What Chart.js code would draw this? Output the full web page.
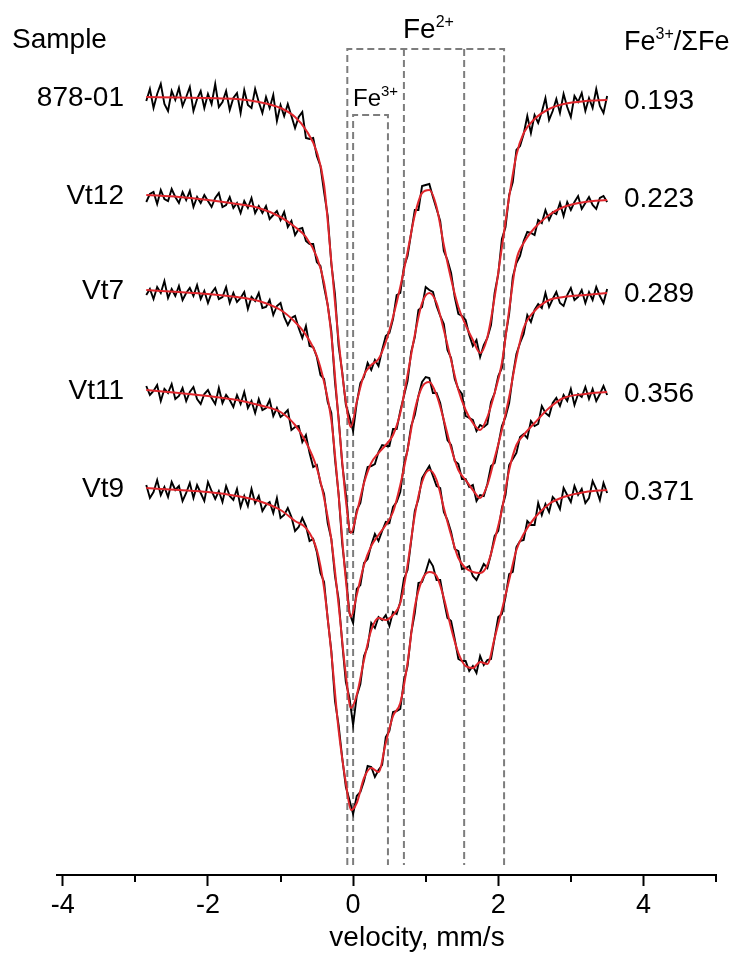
<!DOCTYPE html>
<html>
<head>
<meta charset="utf-8">
<title>Mössbauer spectra</title>
<style>
  html, body { margin: 0; padding: 0; background: #fff; }
  #wrap { width: 731px; height: 958px; }
</style>
<script src="https://cdn.jsdelivr.net/npm/chart.js@4.4.1/dist/chart.umd.min.js"></script>
</head>
<body>
<div id="wrap"><canvas id="spectra" width="731" height="958"></canvas></div>
<script>
// velocity of the measured channels (mm/s)
const velocity = [
  -2.85,-2.80,-2.75,-2.70,-2.65,-2.60,-2.55,-2.50,-2.45,-2.40,
  -2.35,-2.30,-2.25,-2.20,-2.15,-2.10,-2.05,-2.00,-1.95,-1.90,
  -1.85,-1.80,-1.75,-1.70,-1.65,-1.60,-1.55,-1.50,-1.45,-1.40,
  -1.35,-1.30,-1.25,-1.20,-1.15,-1.10,-1.05,-1.00,-0.95,-0.90,
  -0.85,-0.80,-0.75,-0.70,-0.65,-0.60,-0.55,-0.50,-0.45,-0.40,
  -0.35,-0.30,-0.25,-0.20,-0.15,-0.10,-0.05,0.00,0.05,0.10,
  0.15,0.20,0.25,0.30,0.35,0.40,0.45,0.50,0.55,0.60,
  0.65,0.70,0.75,0.80,0.85,0.90,0.95,1.00,1.05,1.10,
  1.15,1.20,1.25,1.30,1.35,1.40,1.45,1.50,1.55,1.60,
  1.65,1.70,1.75,1.80,1.85,1.90,1.95,2.00,2.05,2.10,
  2.15,2.20,2.25,2.30,2.35,2.40,2.45,2.50,2.55,2.60,
  2.65,2.70,2.75,2.80,2.85,2.90,2.95,3.00,3.05,3.10,
  3.15,3.20,3.25,3.30,3.35,3.40,3.45,3.50
];

// velocity points of the fitted envelopes (mm/s)
const fitVelocity = [
  -2.85,-2.4,-2.0,-1.6,-1.3,-1.0,-0.8,-0.65,-0.5,-0.4,
  -0.3,-0.2,-0.1,-0.03,0.05,0.15,0.25,0.35,0.45,0.55,
  0.65,0.75,0.85,0.95,1.05,1.15,1.25,1.35,1.45,1.55,
  1.65,1.75,1.85,1.95,2.05,2.15,2.25,2.35,2.5,2.7,
  2.9,3.2,3.5
];

const sampleNames = ['878-01', 'Vt12', 'Vt7', 'Vt11', 'Vt9'];
const fe3Ratio = ['0.193', '0.223', '0.289', '0.356', '0.371'];
// vertical shift of each spectrum in the stack (%)
const stackOffset = [0, -9.8, -19.3, -29.3, -39.1];

// relative transmission (%), measured
const data87801 = [
  99.6,100.8,98.9,100.3,101.3,99.3,98.6,100.6,99.7,100.9,
  99.1,100.0,101.0,98.6,99.8,100.6,98.9,100.3,99.3,101.3,
  99.0,99.5,100.6,98.7,99.9,100.4,98.4,100.7,99.2,98.9,
  100.8,99.5,98.4,100.0,98.9,100.2,97.6,99.2,98.1,99.3,
  98.1,96.9,98.0,98.5,95.9,95.8,95.9,94.1,93.1,90.5,
  88.1,83.3,80.3,75.1,72.5,69.2,68.0,66.6,69.4,71.4,
  72.0,73.4,72.7,73.7,73.1,74.7,76.1,76.4,77.8,80.2,
  80.4,83.0,84.1,86.4,88.7,88.7,91.1,91.2,91.3,90.0,
  88.8,87.6,84.6,83.7,82.4,80.0,78.3,78.1,77.7,76.2,
  75.1,75.7,74.0,75.2,75.9,77.2,80.4,82.3,85.8,87.0,
  90.2,91.5,94.7,95.1,96.3,98.1,96.4,98.2,97.4,98.5,
  99.9,97.7,98.6,99.8,98.4,100.3,99.0,98.0,100.1,99.5,
  100.4,98.6,99.9,98.9,100.8,99.1,98.4,100.1
];
const dataVt12 = [
  99.3,100.1,100.3,99.1,100.5,99.6,99.4,100.6,99.8,99.2,
  100.3,99.5,100.4,98.8,99.8,99.2,100.0,99.4,98.8,99.7,
  100.2,98.8,99.0,99.8,98.7,99.2,98.2,99.4,98.7,99.7,
  98.2,98.9,98.2,98.9,97.6,98.0,98.4,97.5,98.3,96.8,
  97.4,96.0,96.6,96.7,95.4,95.1,95.1,93.3,92.9,90.8,
  89.0,86.4,81.3,77.7,73.1,70.1,66.3,66.3,68.5,69.2,
  71.3,72.8,72.9,73.1,74.3,75.0,74.9,74.9,76.6,76.6,
  78.4,79.9,81.4,84.3,85.8,88.5,88.8,90.8,90.5,90.3,
  88.9,87.9,87.1,84.5,83.7,81.6,80.6,80.1,77.9,77.7,
  77.5,76.4,77.0,76.8,77.1,79.3,80.2,81.9,82.7,85.9,
  88.1,91.8,93.2,93.9,95.4,96.3,96.2,96.0,97.5,97.2,
  98.5,97.5,98.3,98.1,99.2,97.9,99.3,98.5,99.3,99.9,
  98.6,99.2,99.8,99.0,98.6,99.7,99.9,99.3
];
const dataVt7 = [
  99.5,100.1,99.1,100.3,99.7,100.9,99.2,100.1,99.4,100.4,
  99.0,99.7,100.2,99.4,100.5,99.1,99.9,98.7,99.7,100.2,
  99.1,99.3,100.3,98.7,99.7,98.8,99.2,99.8,98.1,99.3,
  98.9,99.7,98.2,98.3,99.0,97.5,98.4,98.7,97.3,96.5,
  97.2,97.4,96.2,95.2,96.4,94.4,94.3,93.3,91.5,91.1,
  88.8,87.7,83.1,79.6,74.6,71.4,67.7,66.7,70.1,70.5,
  72.7,73.1,74.5,75.6,74.9,75.9,76.8,76.7,78.3,78.8,
  79.8,82.5,84.0,86.4,87.5,89.4,90.8,91.3,91.2,89.7,
  89.7,88.7,86.9,85.0,84.5,82.9,82.6,81.1,81.1,80.3,
  80.5,78.9,79.5,79.4,80.6,82.4,82.7,84.5,86.4,87.3,
  88.7,91.4,93.6,94.7,95.6,97.5,96.8,98.0,98.6,98.2,
  99.7,98.3,99.1,99.8,98.7,98.4,99.5,100.2,99.0,99.3,
  100.0,98.7,99.8,99.0,100.3,99.4,98.7,100.1
];
const dataVt11 = [
  100.4,99.5,99.9,100.5,98.9,100.1,99.7,100.6,99.1,99.4,
  100.2,98.9,99.8,100.3,99.1,98.6,99.6,100.0,99.2,98.6,
  100.2,98.7,99.5,99.0,98.3,99.5,98.6,99.8,98.2,98.9,
  97.7,99.1,98.0,98.2,99.0,97.4,98.2,97.3,97.6,98.0,
  96.0,96.3,96.4,94.8,95.5,93.7,92.3,92.5,90.7,89.6,
  86.7,85.1,81.4,79.1,74.7,70.8,69.2,66.5,69.4,70.6,
  73.4,74.3,76.7,76.2,77.3,77.0,77.5,76.4,77.8,77.6,
  78.8,81.1,82.0,84.9,87.9,89.1,91.2,91.8,92.4,91.4,
  90.4,90.2,87.8,87.0,85.8,84.1,83.9,82.1,82.2,82.4,
  81.4,81.0,81.8,82.6,82.2,83.6,85.4,85.9,88.2,89.5,
  92.5,93.1,93.7,95.3,95.6,95.2,96.9,96.4,96.6,98.4,
  97.7,97.4,98.7,99.2,98.4,99.5,98.9,100.1,98.5,99.6,
  99.3,100.3,99.1,100.1,98.9,99.6,100.4,99.5
];
const dataVt9 = [
  100.3,99.0,99.6,100.8,99.3,100.1,99.1,100.6,99.8,100.2,
  98.7,99.5,100.5,99.0,100.3,99.5,98.7,100.6,99.7,98.9,
  99.7,98.6,100.2,99.2,98.8,99.9,98.1,99.2,98.2,99.9,
  98.5,99.2,97.7,98.3,98.6,97.5,99.0,97.0,97.3,98.0,
  97.1,95.7,96.1,97.0,96.2,94.7,94.9,93.6,91.5,90.6,
  86.9,83.7,78.7,76.3,73.0,70.1,68.8,67.4,69.2,69.6,
  70.7,72.2,72.1,71.1,71.8,72.3,75.1,75.7,77.6,77.7,
  77.9,80.7,82.2,85.5,87.5,90.5,90.6,91.6,92.8,92.2,
  90.8,90.8,88.8,87.0,86.7,84.9,82.9,82.7,82.7,81.7,
  82.2,81.5,83.2,82.3,82.8,82.9,85.0,87.1,87.4,89.1,
  91.4,91.6,94.1,94.7,94.8,96.7,96.3,96.3,98.5,97.3,
  98.4,97.6,99.1,98.7,97.9,100.0,99.3,98.6,100.2,99.3,
  99.9,98.5,99.0,100.7,99.9,98.8,100.5,99.5
];

// relative transmission (%), fitted envelope
const fit87801 = [
  100,99.95,99.9,99.8,99.5,98.9,98.0,96.7,94.5,91.2,
  83.5,75.7,69.5,67.0,69.5,72.2,73.2,73.8,75.5,78.0,
  81.0,84.5,88.2,90.4,90.7,89.0,85.2,81.8,79.0,77.2,
  75.7,74.4,76.0,80.0,85.0,90.0,94.2,96.4,97.8,98.8,
  99.3,99.6,99.7
];
const fitVt12 = [
  100,99.8,99.5,99.1,98.7,97.8,96.8,95.8,93.8,91.2,
  86.0,77.5,69.5,66.2,68.2,71.2,73.2,74.2,75.0,76.0,
  78.2,82.0,86.0,89.2,90.2,89.2,86.5,83.5,80.5,78.5,
  77.2,76.5,77.8,80.2,83.2,88.5,93.5,95.2,96.7,98.0,
  98.8,99.3,99.5
];
const fitVt7 = [
  100,99.8,99.6,99.3,98.9,98.0,96.8,95.5,93.4,90.8,
  87.0,79.5,71.0,67.3,69.5,72.5,74.4,75.5,76.5,77.8,
  80.5,84.0,88.0,90.3,90.8,89.5,87.0,84.2,82.0,81.0,
  80.0,79.2,80.5,83.2,86.0,89.3,93.2,96.2,97.9,99.0,
  99.3,99.5,99.7
];
const fitVt11 = [
  100,99.7,99.4,99.0,98.5,97.8,96.5,94.8,92.2,89.2,
  85.0,78.5,71.5,68.2,69.5,73.0,76.0,77.2,77.0,77.5,
  78.7,82.5,87.5,90.8,92.0,91.0,88.2,85.5,83.2,82.2,
  81.8,81.7,82.5,85.0,88.0,92.0,94.5,95.5,96.7,98.2,
  99.2,99.6,99.8
];
const fitVt9 = [
  100,99.8,99.6,99.2,98.7,97.8,96.7,96.0,93.8,90.0,
  83.5,75.8,70.5,67.8,68.5,71.0,72.0,71.6,74.5,77.2,
  78.5,82.5,88.1,90.8,91.6,91.2,89.0,86.0,83.5,82.2,
  82.0,82.6,82.4,85.0,87.8,90.8,93.8,95.4,97.0,98.4,
  99.1,99.6,99.8
];

// component positions marked by the dashed boxes (mm/s)
const fe2Lines = [-0.08, 0.70, 1.53, 2.08];
const fe3Lines = [0.00, 0.48];
const fe2Top = 104.8;
const fe3Top = 98.2;
const markerBottom = 23.2;

const axisTicks = [-4, -3, -2, -1, 0, 1, 2, 3, 4, 5];

const FONT = '"Liberation Sans", Arial, Helvetica, sans-serif';
const RED = '#e0262c';

const measured = [data87801, dataVt12, dataVt7, dataVt11, dataVt9];
const fitted = [fit87801, fitVt12, fitVt7, fitVt11, fitVt9];

function stacked(xs, ys, off) {
    return xs.map((x, i) => ({ x: x, y: ys[i] + off }));
}

function dashed(points) {
    return {
        data: points,
        borderColor: '#7d7d7d',
        borderWidth: 2,
        borderDash: [7, 4],
        pointRadius: 0,
        tension: 0,
        order: 3
    };
}

const datasets = [];

// measured spectra and their fits
measured.forEach((ys, k) => {
    datasets.push({
        data: stacked(velocity, ys, stackOffset[k]),
        borderColor: '#000',
        borderWidth: 1.9,
        pointRadius: 0,
        tension: 0,
        order: 2
    });
    datasets.push({
        data: stacked(fitVelocity, fitted[k], stackOffset[k]),
        borderColor: RED,
        borderWidth: 2,
        pointRadius: 0,
        cubicInterpolationMode: 'monotone',
        order: 1
    });
});

// dashed component boxes
datasets.push(dashed([
    { x: fe2Lines[0], y: markerBottom }, { x: fe2Lines[0], y: fe2Top },
    { x: fe2Lines[3], y: fe2Top }, { x: fe2Lines[3], y: markerBottom }
]));
datasets.push(dashed([{ x: fe2Lines[1], y: fe2Top }, { x: fe2Lines[1], y: markerBottom }]));
datasets.push(dashed([{ x: fe2Lines[2], y: fe2Top }, { x: fe2Lines[2], y: markerBottom }]));
datasets.push(dashed([
    { x: fe3Lines[0], y: markerBottom }, { x: fe3Lines[0], y: fe3Top },
    { x: fe3Lines[1], y: fe3Top }, { x: fe3Lines[1], y: markerBottom }
]));

// text with a superscript part
function supText(ctx, parts, x, y, size, supSize, rise) {
    ctx.textAlign = 'left';
    parts.forEach(p => {
        if (p.sup) {
            ctx.font = supSize + 'px ' + FONT;
            ctx.fillText(p.t, x, y - rise);
        } else {
            ctx.font = size + 'px ' + FONT;
            ctx.fillText(p.t, x, y);
        }
        x += ctx.measureText(p.t).width;
    });
}

const labelPlugin = {
    id: 'labels',
    afterDraw(chart) {
        const ctx = chart.ctx;
        const xScale = chart.scales.x;
        const yScale = chart.scales.y;
        const axisY = chart.chartArea.bottom;
        ctx.save();

        // short minor ticks at the odd velocities
        ctx.strokeStyle = '#000';
        ctx.lineWidth = 2;
        axisTicks.filter(v => v % 2 !== 0).forEach(v => {
            const px = Math.round(xScale.getPixelForValue(v));
            ctx.beginPath();
            ctx.moveTo(px, axisY);
            ctx.lineTo(px, axisY + 7);
            ctx.stroke();
        });

        ctx.fillStyle = '#000';
        ctx.textBaseline = 'alphabetic';

        ctx.font = '28px ' + FONT;
        ctx.textAlign = 'center';
        ctx.fillText('velocity, mm/s', 417, 946);

        ctx.textAlign = 'left';
        ctx.fillText('Sample', 12, 48);

        sampleNames.forEach((name, k) => {
            const py = yScale.getPixelForValue(100 + stackOffset[k]);
            ctx.font = '28px ' + FONT;
            ctx.textAlign = 'right';
            ctx.fillText(name, 124, py + 9);
            ctx.textAlign = 'left';
            ctx.fillText(fe3Ratio[k], 624, py + 12);
        });

        supText(ctx, [{ t: 'Fe' }, { t: '3+', sup: true }, { t: '/ΣFe' }], 624, 50, 27, 16, 11);
        supText(ctx, [{ t: 'Fe' }, { t: '2+', sup: true }], 403, 38, 28, 16, 11);
        supText(ctx, [{ t: 'Fe' }, { t: '3+', sup: true }], 353, 106, 24, 15, 10);
        ctx.restore();
    }
};

new Chart(document.getElementById('spectra'), {
    type: 'line',
    data: { datasets: datasets },
    options: {
        responsive: false,
        animation: false,
        devicePixelRatio: 1,
        layout: { padding: { left: 57, right: 15, top: 10, bottom: 0 } },
        plugins: {
            legend: { display: false },
            tooltip: { enabled: false }
        },
        scales: {
            x: {
                type: 'linear',
                min: -4.08,
                max: 5.0,
                afterBuildTicks: s => { s.ticks = axisTicks.map(v => ({ value: v })); },
                afterFit: s => { s.height = 83; },
                border: { display: true, color: '#000', width: 2 },
                grid: {
                    drawOnChartArea: false,
                    drawTicks: true,
                    tickLength: 11,
                    tickWidth: 2,
                    tickColor: c => (c.tick && c.tick.value % 2 === 0 ? '#000' : 'rgba(0,0,0,0)')
                },
                ticks: {
                    autoSkip: false,
                    maxRotation: 0,
                    padding: 3,
                    color: '#000',
                    font: { family: FONT, size: 27 },
                    callback: v => (v % 2 === 0 ? String(v) : '')
                },
                title: { display: false }
            },
            y: {
                display: false,
                min: 22.2,
                max: 108.7
            }
        }
    },
    plugins: [labelPlugin]
});
</script>
</body>
</html>
